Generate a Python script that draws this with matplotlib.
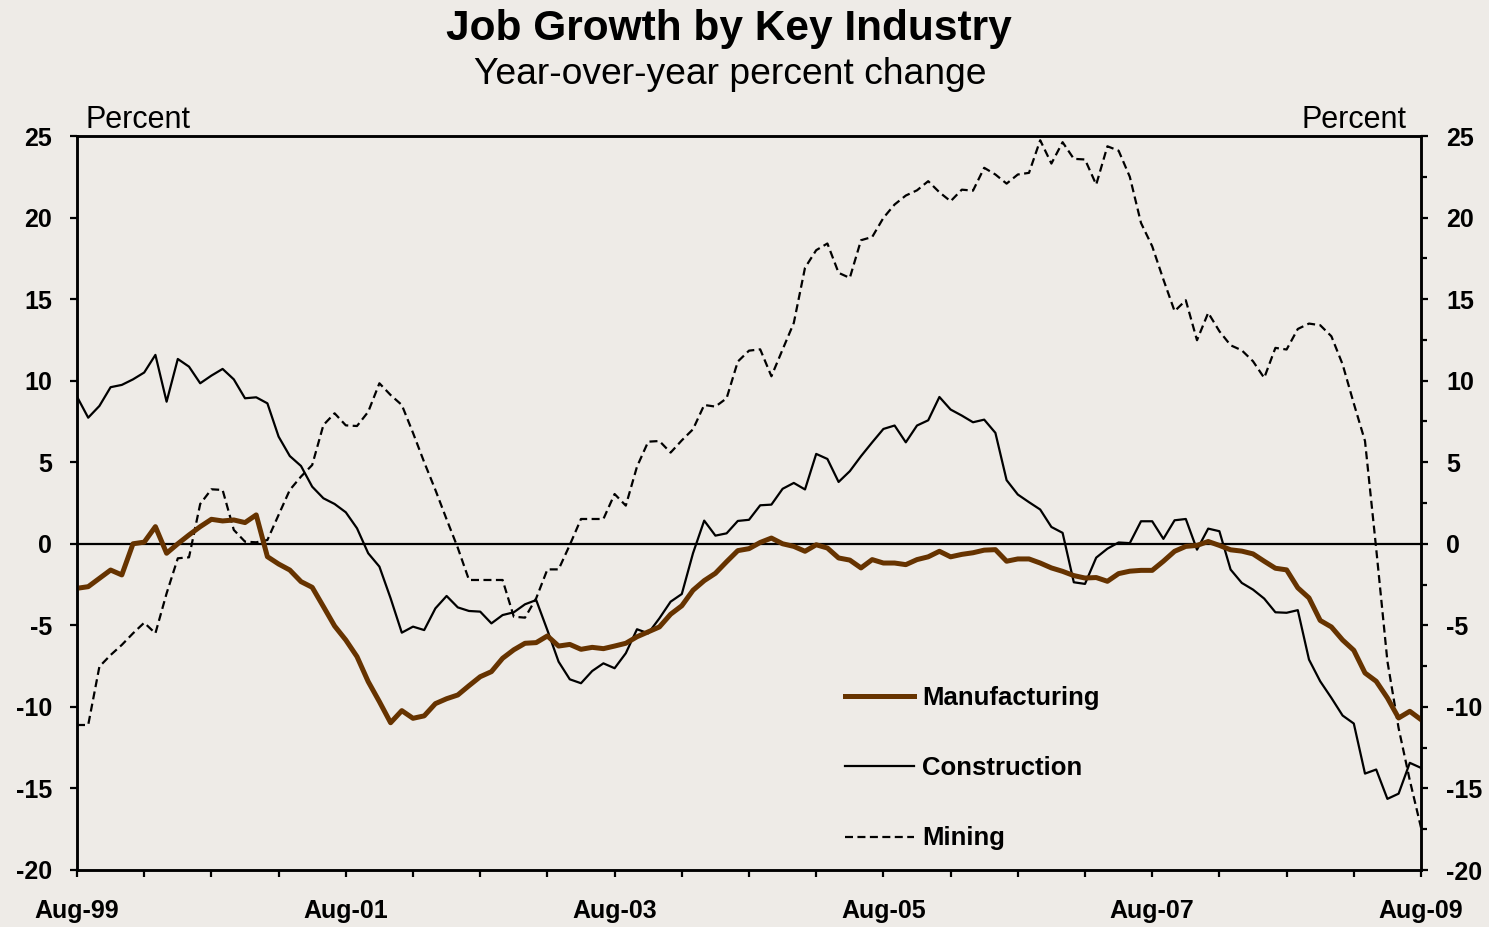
import matplotlib
matplotlib.use("Agg")
import matplotlib.pyplot as plt
from matplotlib.ticker import MultipleLocator, FixedLocator, FixedFormatter
import numpy as np

# Monthly data, Aug-1999 .. Aug-2009 (121 months), year-over-year percent change
manufacturing = [
    -2.73, -2.63, -2.12, -1.61, -1.91, 0.0, 0.1, 1.05, -0.58, 0.0,
    0.54, 1.05, 1.5, 1.4, 1.46, 1.3, 1.77, -0.79, -1.24, -1.61,
    -2.32, -2.67, -3.85, -5.04, -5.9, -6.92, -8.45, -9.68, -10.97, -10.23,
    -10.7, -10.55, -9.8, -9.5, -9.27, -8.7, -8.15, -7.84, -7.02, -6.5,
    -6.1, -6.06, -5.65, -6.27, -6.17, -6.47, -6.35, -6.43, -6.27, -6.1,
    -5.7, -5.4, -5.1, -4.32, -3.8, -2.85, -2.26, -1.81, -1.1, -0.42,
    -0.3, 0.08, 0.35, 0.0, -0.16, -0.46, -0.06, -0.26, -0.87, -1.0,
    -1.48, -0.97, -1.18, -1.18, -1.28, -0.97, -0.8, -0.46, -0.8, -0.65,
    -0.55, -0.39, -0.36, -1.07, -0.93, -0.93, -1.18, -1.48, -1.69, -1.95,
    -2.1, -2.07, -2.3, -1.83, -1.68, -1.63, -1.63, -1.07, -0.46, -0.16,
    -0.1, 0.14, -0.1, -0.37, -0.45, -0.62, -1.07, -1.5, -1.6, -2.7,
    -3.32, -4.7, -5.1, -5.9, -6.53, -7.92, -8.43, -9.45, -10.68, -10.27,
    -10.78,
]

construction = [
    9.02, 7.73, 8.45, 9.6, 9.74, 10.08, 10.5, 11.58, 8.71, 11.33,
    10.86, 9.84, 10.31, 10.72, 10.08, 8.92, 8.98, 8.61, 6.57, 5.38,
    4.77, 3.5, 2.79, 2.44, 1.93, 0.95, -0.58, -1.4, -3.34, -5.45,
    -5.08, -5.29, -3.96, -3.2, -3.9, -4.12, -4.16, -4.88, -4.37, -4.2,
    -3.71, -3.45, -5.3, -7.23, -8.31, -8.55, -7.8, -7.33, -7.63, -6.71,
    -5.24, -5.49, -4.57, -3.55, -3.08, -0.58, 1.42, 0.5, 0.64, 1.4,
    1.47, 2.36, 2.4, 3.37, 3.73, 3.33, 5.51, 5.2, 3.79, 4.45,
    5.37, 6.22, 7.04, 7.25, 6.22, 7.25, 7.57, 9.0, 8.23, 7.86,
    7.45, 7.61, 6.8, 3.9, 3.02, 2.55, 2.1, 1.03, 0.67, -2.36,
    -2.46, -0.85, -0.3, 0.08, 0.04, 1.38, 1.38, 0.3, 1.44, 1.52,
    -0.36, 0.93, 0.77, -1.58, -2.4, -2.81, -3.36, -4.2, -4.23, -4.07,
    -7.1, -8.43, -9.45, -10.53, -11.02, -14.09, -13.84, -15.64, -15.32, -13.43,
    -13.74,
]

mining = [
    -11.11, -11.11, -7.53, -6.82, -6.2, -5.49, -4.84, -5.49, -3.04, -0.89,
    -0.83, 2.44, 3.34, 3.3, 0.85, 0.13, 0.09, 0.23, 1.77, 3.3,
    4.12, 4.83, 7.28, 8.0, 7.26, 7.22, 8.09, 9.84, 9.12, 8.51,
    6.8, 5.0, 3.3, 1.5, -0.25, -2.22, -2.22, -2.22, -2.22, -4.47,
    -4.53, -3.34, -1.57, -1.57, -0.07, 1.52, 1.52, 1.52, 3.05, 2.34,
    4.73, 6.26, 6.3, 5.59, 6.34, 7.02, 8.51, 8.41, 8.92, 11.17,
    11.84, 11.92, 10.27, 11.91, 13.54, 16.92, 18.0, 18.41, 16.61, 16.3,
    18.61, 18.81, 19.98, 20.8, 21.35, 21.67, 22.23, 21.55, 21.0, 21.71,
    21.65, 23.05, 22.64, 22.08, 22.64, 22.74, 24.74, 23.31, 24.62, 23.6,
    23.56, 22.02, 24.37, 24.1, 22.5, 19.67, 18.24, 16.2, 14.26, 14.93,
    12.48, 14.16, 13.03, 12.17, 11.86, 11.19, 10.17, 12.01, 11.91, 13.17,
    13.5, 13.4, 12.72, 11.0, 8.6, 6.3, -0.3, -7.2, -11.3, -14.5,
    -17.4,
]

tick_labels = ["Aug-99", "Aug-01", "Aug-03", "Aug-05", "Aug-07", "Aug-09"]
label_months = [0, 24, 48, 72, 96, 120]

BG = "#EEEBE7"
BROWN = "#663300"

plt.rcParams["font.family"] = ["Liberation Sans", "DejaVu Sans"]
plt.rcParams["axes.unicode_minus"] = False

fig = plt.figure(figsize=(14.89, 9.27), dpi=100, facecolor=BG)
ax = fig.add_axes([77 / 1489, 1 - 870 / 927, (1421 - 77) / 1489, (870 - 136) / 927])
ax.set_facecolor(BG)

x = np.arange(len(manufacturing))

ax.axhline(0, color="black", lw=1.6, zorder=1)
ax.plot(x, manufacturing, color=BROWN, lw=3.6, solid_joinstyle="round",
        label="Manufacturing", zorder=3)
ax.plot(x, construction, color="black", lw=1.6, label="Construction", zorder=2)
ax.plot(x, mining, color="black", lw=1.6, dashes=(3.6, 2.0), label="Mining", zorder=2)

ax.set_xlim(0, 120)
ax.set_ylim(-20, 25)

for s in ax.spines.values():
    s.set_linewidth(1.8)
    s.set_color("black")

# x axis
ax.xaxis.set_major_locator(FixedLocator(label_months))
ax.xaxis.set_major_formatter(FixedFormatter(tick_labels))
ax.xaxis.set_minor_locator(MultipleLocator(6))
ax.tick_params(axis="x", which="both", direction="out", length=5, width=1.6,
               pad=16, labelsize=18)
for t in ax.get_xticklabels():
    t.set_fontweight("bold")

# left y axis
ax.yaxis.set_major_locator(MultipleLocator(5))
ax.tick_params(axis="y", which="major", direction="out", length=5, width=1.6,
               pad=13, labelsize=18)
for t in ax.get_yticklabels():
    t.set_fontweight("bold")

# right y axis
ax2 = ax.twinx()
ax2.set_ylim(ax.get_ylim())
ax2.yaxis.set_major_locator(MultipleLocator(5))
ax2.yaxis.set_minor_locator(MultipleLocator(2.5))
ax2.tick_params(axis="y", which="major", direction="out", length=5, width=1.6,
                pad=13, labelsize=18)
ax2.tick_params(axis="y", which="minor", direction="out", length=4, width=1.6)
for t in ax2.get_yticklabels():
    t.set_fontweight("bold")
for s in ax2.spines.values():
    s.set_linewidth(1.8)

# titles and unit labels
fig.text(729 / 1489, 1 - 40 / 927, "Job Growth by Key Industry", ha="center",
         va="baseline", fontsize=30.5, fontweight="bold")
fig.text(730 / 1489, 1 - 84 / 927, "Year-over-year percent change", ha="center",
         va="baseline", fontsize=26.8)
fig.text(86 / 1489, 1 - 128 / 927, "Percent", ha="left", va="baseline", fontsize=22)
fig.text(1406 / 1489, 1 - 128 / 927, "Percent", ha="right", va="baseline", fontsize=22)

leg = ax.legend(loc="upper left", bbox_to_anchor=((845 - 77) / 1344, (870 - 686) / 734),
                frameon=False, fontsize=18.5, handlelength=2.7, handletextpad=0.3,
                labelspacing=1.8, borderpad=0, borderaxespad=0)
for t in leg.get_texts():
    t.set_fontweight("bold")

fig.savefig("out.png", dpi=100, facecolor=BG)
